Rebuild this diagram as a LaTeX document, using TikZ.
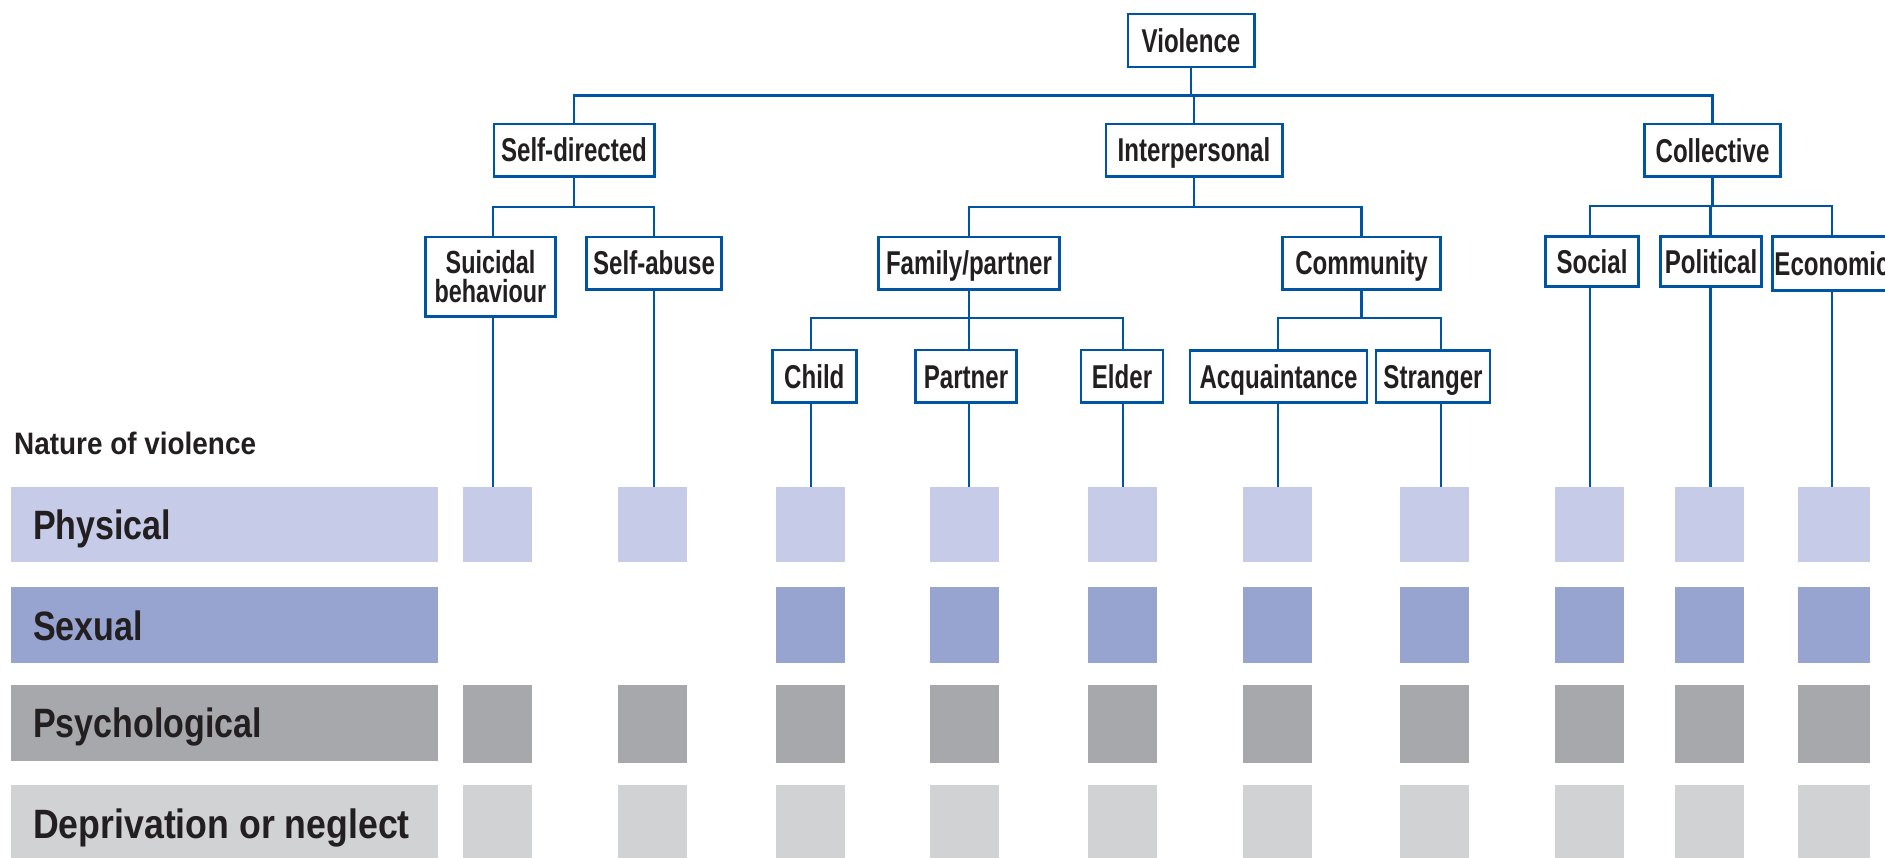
\documentclass[tikz,border=0pt]{standalone}
\usepackage{fontspec}
\newfontfamily\treefont[FakeStretch=0.73]{Liberation Sans Bold}
\newfontfamily\rowfont[FakeStretch=0.83]{Liberation Sans Bold}
\newfontfamily\depfont[FakeStretch=0.87]{Liberation Sans Bold}
\newfontfamily\natfont[FakeStretch=0.90]{Liberation Sans Bold}
\definecolor{wblue}{RGB}{0,84,164}
\definecolor{txt}{HTML}{231F20}
\definecolor{cphys}{HTML}{C6CBE7}
\definecolor{csex}{HTML}{98A4D0}
\definecolor{cpsy}{HTML}{A7A8AC}
\definecolor{cdep}{HTML}{D1D2D4}
\begin{document}
\begin{tikzpicture}[x=1pt,y=-1pt,
  box/.style={draw=wblue, line width=2.7pt, fill=white, inner sep=0pt,
    text=txt, font=\treefont\fontsize{33}{28}\selectfont,
    text height=23.6pt, text depth=0pt},
  twobox/.style={draw=wblue, line width=2.7pt, fill=white, inner sep=0pt,
    text=txt, font=\treefont\fontsize{32}{29}\selectfont, align=center},
  conn/.style={draw=wblue, line width=2.7pt},
  cell/.style={inner sep=0pt, draw=none},
  rowlabel/.style={anchor=base west, inner sep=0pt, text=txt}]
\useasboundingbox (0,0) rectangle (1885,858);
\clip (0,0) rectangle (1885,858);

% level coordinates
\coordinate (b1) at (0,95.5);
\coordinate (b2) at (0,207);
\coordinate (b3) at (0,318);

% column line coordinates (top of squares)
\coordinate (l1) at (493,487);
\coordinate (l2) at (654,487);
\coordinate (l3) at (811,487);
\coordinate (l4) at (969,487);
\coordinate (l5) at (1123,487);
\coordinate (l6) at (1278,487);
\coordinate (l7) at (1441,487);
\coordinate (l8) at (1590,487);
\coordinate (l9) at (1710.5,487);
\coordinate (l10) at (1832,487);

% row bars
\fill[cphys] (11,487) rectangle (438,562);
\fill[csex]  (11,587) rectangle (438,663);
\fill[cpsy]  (11,685) rectangle (438,761);
\fill[cdep]  (11,785) rectangle (438,861);

\node[rowlabel, font=\natfont\fontsize{31}{31}\selectfont] (nat) at (14,454) {Nature of violence};
\node[rowlabel, font=\rowfont\fontsize{41}{41}\selectfont] (phys) at (33,539) {Physical};
\node[rowlabel, font=\rowfont\fontsize{41}{41}\selectfont] (sex) at (33,640) {Sexual};
\node[rowlabel, font=\rowfont\fontsize{41}{41}\selectfont] (psy) at (33,737) {Psychological};
\node[rowlabel, font=\depfont\fontsize{41}{41}\selectfont] (dep) at (33,838) {Deprivation or neglect};

% squares
\foreach \c/\xc/\w in {1/497.5/69,2/652.5/69,3/810/69,4/964.5/69,5/1122.5/69,6/1277/69,7/1434.5/69,8/1589.5/69,9/1709.5/69,10/1834/72}{
  \node[cell, fill=cphys, minimum width=\w pt, minimum height=75pt] (sq-1-\c) at (\xc,524.5) {};
  \node[cell, fill=cpsy, minimum width=\w pt, minimum height=78pt] (sq-3-\c) at (\xc,724) {};
  \node[cell, fill=cdep, minimum width=\w pt, minimum height=76pt] (sq-4-\c) at (\xc,823) {};
}
\foreach \c/\xc/\w in {3/810/69,4/964.5/69,5/1122.5/69,6/1277/69,7/1434.5/69,8/1589.5/69,9/1709.5/69,10/1834/72}{
  \node[cell, fill=csex, minimum width=\w pt, minimum height=76pt] (sq-2-\c) at (\xc,625) {};
}

% tree nodes
\node[box, minimum width=126.3pt, minimum height=52.9pt] (violence) at (1191,40.5) {Violence};

\node[box, minimum width=160.3pt, minimum height=52.3pt] (selfdir) at (574,150.2) {Self-directed};
\node[box, minimum width=176.3pt, minimum height=52.3pt] (interp) at (1194,150.2) {Interpersonal};
\node[box, minimum width=136.3pt, minimum height=52.6pt] (collective) at (1712.5,150.3) {Collective};

\node[twobox, minimum width=130.3pt, minimum height=79.6pt] (suicidal) at (490.5,276.9) {Suicidal\\behaviour};
\node[box, minimum width=135.3pt, minimum height=52.3pt] (selfabuse) at (654,263.2) {Self-abuse};
\node[box, minimum width=181.3pt, minimum height=52.3pt] (family) at (969,263.2) {Family/partner};
\node[box, minimum width=158.3pt, minimum height=52.3pt] (community) at (1361.5,263.2) {Community};
\node[box, minimum width=93.3pt, minimum height=50.3pt] (social) at (1592,261.5) {Social};
\node[box, minimum width=101.3pt, minimum height=50.3pt] (political) at (1711,261.5) {Political};
\node[box, minimum width=119.3pt, minimum height=54pt] (economic) at (1832,263.3) {Economic};

\node[box, minimum width=84.3pt, minimum height=52.6pt] (child) at (814.3,376.3) {Child};
\node[box, minimum width=101.3pt, minimum height=52.3pt] (partner) at (966,376.3) {Partner};
\node[box, minimum width=81.9pt, minimum height=52.3pt] (elder) at (1122,376.3) {Elder};
\node[box, minimum width=176.9pt, minimum height=52.3pt] (acquaint) at (1278.5,376.5) {Acquaintance};
\node[box, minimum width=113.9pt, minimum height=52.3pt] (stranger) at (1433,376.5) {Stranger};

% connectors: level 1 -> 2
\draw[conn] (violence.south) -- (violence.south |- b1) -| (selfdir.north);
\draw[conn] (violence.south) -- (violence.south |- b1) -| (interp.north);
\draw[conn] (violence.south) -- (violence.south |- b1) -| (collective.north);

% level 2 -> 3
\draw[conn] (selfdir.south) -- (selfdir.south |- b2) -| (suicidal.north -| l1);
\draw[conn] (selfdir.south) -- (selfdir.south |- b2) -| (selfabuse.north -| l2);
\draw[conn] (interp.south) -- (interp.south |- b2) -| (family.north);
\draw[conn] (interp.south) -- (interp.south |- b2) -| (community.north);
\draw[conn] (collective.south) -- (collective.south |- 0,206) -| (social.north -| l8);
\draw[conn] (collective.south) -- (collective.south |- 0,206) -| (political.north -| l9);
\draw[conn] (collective.south) -- (collective.south |- 0,206) -| (economic.north -| l10);

% level 3 -> 4
\draw[conn] (family.south) -- (family.south |- b3) -| (child.north -| l3);
\draw[conn] (family.south) -- (family.south |- b3) -| (partner.north -| l4);
\draw[conn] (family.south) -- (family.south |- b3) -| (elder.north -| l5);
\draw[conn] (community.south) -- (community.south |- b3) -| (acquaint.north -| l6);
\draw[conn] (community.south) -- (community.south |- b3) -| (stranger.north -| l7);

% leaves -> squares
\draw[conn] (suicidal.south -| l1) -- (l1);
\draw[conn] (selfabuse.south -| l2) -- (l2);
\draw[conn] (child.south -| l3) -- (l3);
\draw[conn] (partner.south -| l4) -- (l4);
\draw[conn] (elder.south -| l5) -- (l5);
\draw[conn] (acquaint.south -| l6) -- (l6);
\draw[conn] (stranger.south -| l7) -- (l7);
\draw[conn] (social.south -| l8) -- (l8);
\draw[conn] (political.south -| l9) -- (l9);
\draw[conn] (economic.south -| l10) -- (l10);
\end{tikzpicture}
\end{document}
